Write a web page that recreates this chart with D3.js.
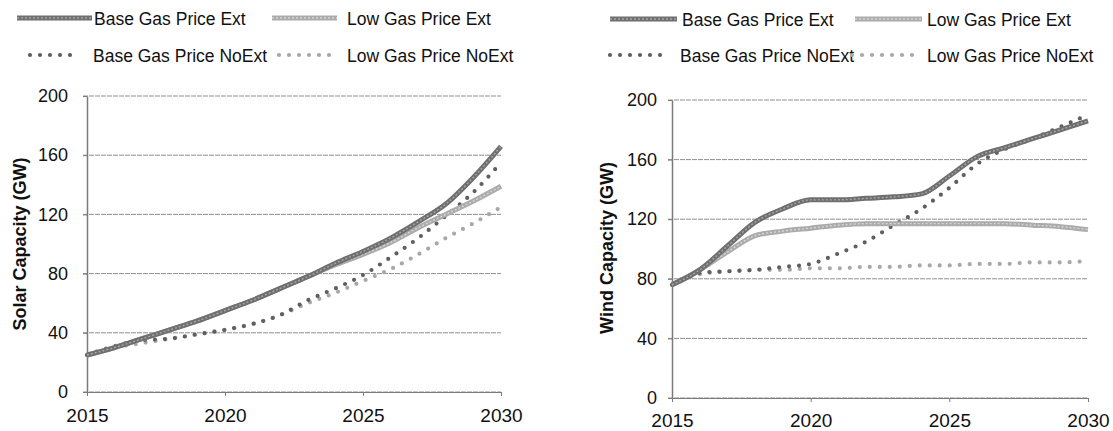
<!DOCTYPE html>
<html>
<head>
<meta charset="utf-8">
<script src="https://cdn.jsdelivr.net/npm/d3@7"></script>
<style>
  body { margin: 0; background: #fff; }
  svg { display: block; font-family: "Liberation Sans", Arial, sans-serif; }
</style>
</head>
<body>
<svg width="1113" height="431"></svg>
<script>
var width = 1113;
var height = 431;

// values
var years = [2015,2016,2017,2018,2019,2020,2021,2022,2023,2024,2025,2026,2027,2028,2029,2030];

var solarBaseExt   = [25,30,36,42,48,55,62,70,78,87,95,104,115,127,145,166];
var solarLowExt    = [25,30,36,42,48,55,62,70,78,86,93,101,111,120,129,139];
var solarBaseNoExt = [25,31,35,36,39,42,46,52,62,70,79,91,104,119,135,155];
var solarLowNoExt  = [25,30,33,36,39,42,46,52,60,67,75,83,93,104,114,125];

var windBaseExt   = [76,86,102,118,127,133,133,134,135,137,149,162,168,174,180,186];
var windLowExt    = [76,86,98,109,112,114,116,117,117,117,117,117,117,116,115,113];
var windBaseNoExt = [76,84,85,86,88,90,97,105,116,127,141,157,167,174,182,190];
var windLowNoExt  = [76,83,85,86,86,87,87,88,88,89,89,90,90,91,91,92];

var seriesNames = ["Base Gas Price Ext","Low Gas Price Ext","Base Gas Price NoExt","Low Gas Price NoExt"];
var yTicks = [0,40,80,120,160,200];
var xTicks = [2015,2020,2025,2030];

var svg = d3.select("svg")
      .attr("width",width)
      .attr("height",height);

// line styles per series
function styleLine(sel, k){
  if(k == 0 || k == 1){
    return sel.attr("stroke", k == 0 ? "#6f6f6f" : "#ababab")
      .attr("stroke-width",5)
      .attr("stroke-linecap","butt");
  }
  return sel.attr("stroke", k == 2 ? "#5f5f5f" : "#a8a8a8")
    .attr("stroke-width", 4.2)
    .attr("stroke-linecap","round")
    .attr("stroke-dasharray","0,10");
}
function styleInner(sel, k){
  return sel.attr("stroke", k == 0 ? "#a6a6a6" : "#d6d6d6")
    .attr("stroke-width",1.4)
    .attr("stroke-dasharray","2,2");
}

function drawChart(opts){
  var g = svg.append("g");
  var x = d3.scaleLinear().domain([2015,2030]).range([opts.x0, opts.x1]);
  var y = d3.scaleLinear().domain([0,200]).range([opts.y0, opts.y1]);

  // gridlines
  g.selectAll(".grid").data(yTicks).enter()
    .append("line")
    .attr("x1", opts.x0 - 4).attr("x2", opts.x1)
    .attr("y1", function(d){ return y(d); })
    .attr("y2", function(d){ return y(d); })
    .attr("stroke","#8f8f8f")
    .attr("stroke-width",1)
    .attr("stroke-dasharray","5,1");

  var yAxis = g.append("g")
    .attr("transform","translate(" + opts.x0 + ",0)")
    .call(d3.axisLeft(y).tickValues(yTicks).tickSize(4).tickSizeOuter(0).tickPadding(opts.yPad));
  yAxis.select(".domain").attr("stroke","#7a7a7a").attr("stroke-width",1.5);
  yAxis.selectAll(".tick line").attr("stroke","#7a7a7a");
  yAxis.selectAll("text").attr("font-size",18).attr("fill","#111");

  var xAxis = g.append("g")
    .attr("transform","translate(0," + opts.y0 + ")")
    .call(d3.axisBottom(x).tickValues(xTicks).tickFormat(d3.format("d"))
      .tickSize(4).tickSizeOuter(0).tickPadding(opts.xPad));
  xAxis.select(".domain").attr("stroke","#7a7a7a").attr("stroke-width",1.2);
  xAxis.selectAll(".tick line").attr("stroke","#7a7a7a");
  xAxis.selectAll("text").attr("font-size",19).attr("fill","#111");

  // axis title
  g.append("text")
    .attr("transform","translate(" + opts.titleX + "," + opts.titleY + ") rotate(-90)")
    .attr("text-anchor","middle")
    .attr("font-size",18)
    .attr("font-weight","bold")
    .attr("fill","#111")
    .text(opts.title);

  var line = d3.line()
    .x(function(d){ return x(d.yr); })
    .y(function(d){ return y(d.v); })
    .curve(d3.curveMonotoneX);

  var order = [3,2,1,0];
  order.forEach(function(k){
    var pts = years.map(function(yr,i){ return {yr: yr, v: opts.series[k][i]}; });
    styleLine(g.append("path").attr("fill","none").attr("d", line(pts)), k);
    if(k < 2){
      styleInner(g.append("path").attr("fill","none").attr("d", line(pts)), k);
    }
  });

  // legend
  opts.legend.forEach(function(item, k){
    var ly = item.y;
    styleLine(g.append("line")
      .attr("x1", item.x1).attr("x2", item.x2)
      .attr("y1", ly).attr("y2", ly), k);
    if(k < 2){
      styleInner(g.append("line")
        .attr("x1", item.x1).attr("x2", item.x2)
        .attr("y1", ly).attr("y2", ly), k);
    }
    g.append("text")
      .attr("x", item.tx)
      .attr("y", ly + 7)
      .attr("font-size",17.5)
      .attr("fill","#111")
      .text(seriesNames[k]);
  });
}

drawChart({
  x0: 87, x1: 501, y0: 392, y1: 96,
  yPad: 15, xPad: 13,
  title: "Solar Capacity (GW)", titleX: 26, titleY: 244,
  series: [solarBaseExt, solarLowExt, solarBaseNoExt, solarLowNoExt],
  legend: [
    {x1: 17, x2: 92, tx: 94, y: 18},
    {x1: 272, x2: 337, tx: 347, y: 18},
    {x1: 30, x2: 80, tx: 93, y: 55},
    {x1: 279, x2: 335, tx: 347, y: 55}
  ]
});

drawChart({
  x0: 672, x1: 1088, y0: 398, y1: 100,
  yPad: 11, xPad: 12,
  title: "Wind Capacity (GW)", titleX: 613, titleY: 248,
  series: [windBaseExt, windLowExt, windBaseNoExt, windLowNoExt],
  legend: [
    {x1: 610, x2: 677, tx: 682, y: 19},
    {x1: 855, x2: 922, tx: 927, y: 19},
    {x1: 610, x2: 670, tx: 680, y: 55},
    {x1: 852, x2: 914, tx: 927, y: 55}
  ]
});
</script>
</body>
</html>
